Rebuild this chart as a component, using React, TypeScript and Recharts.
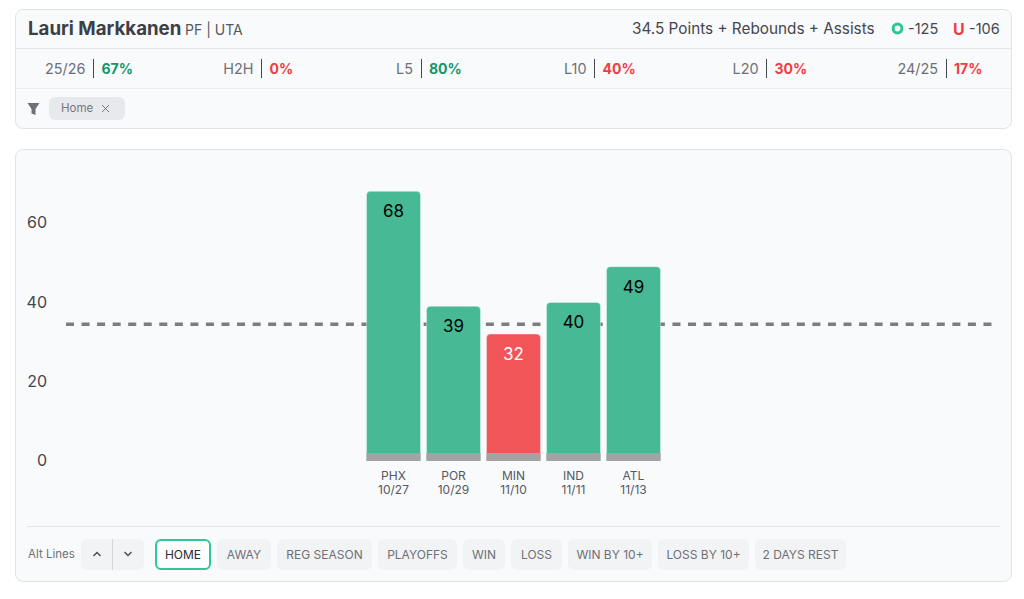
import { BarChart, Bar, XAxis, YAxis, ReferenceLine, LabelList, Rectangle } from 'recharts';

const opponents = ['PHX', 'POR', 'MIN', 'IND', 'ATL'];
const dates = ['10/27', '10/29', '11/10', '11/11', '11/13'];
const totals = [68, 39, 32, 40, 49];
const yTicks = [0, 20, 40, 60];
const propLine = 34.5;

const statLabels = ['25/26', 'H2H', 'L5', 'L10', 'L20', '24/25'];
const statPcts = [67, 0, 80, 40, 30, 17];
const statHit = [true, false, true, false, false, false];
const statSepX = [93.5, 261.5, 421, 594.5, 766.5, 946];

const filters = ['HOME', 'AWAY', 'REG SEASON', 'PLAYOFFS', 'WIN', 'LOSS', 'WIN BY 10+', 'LOSS BY 10+', '2 DAYS REST'];
const filterX = [155, 217, 277, 378, 463, 511, 568, 658, 755];
const filterW = [56, 54, 95, 79, 42, 51, 84, 91, 91];

const data = opponents.map((name, i) => ({ name, date: dates[i], total: totals[i] }));

const FONT = 'Inter, "Open Sans", sans-serif';
const GREEN = '#47b994';
const RED = '#f25558';

const abs = (left: number, top: number, extra: any = {}) => ({ position: 'absolute' as const, left, top, ...extra });

function GameBar(props: any) {
  const { x, y, width, height, payload } = props;
  const fill = payload.total > propLine ? GREEN : RED;
  return (
    <g>
      <Rectangle x={x} y={y} width={width} height={height} radius={[4, 4, 0, 0]} fill={fill} stroke="#ffffff" strokeOpacity={0.35} strokeWidth={1} />
      <Rectangle x={x} y={y + height - 8} width={width} height={8} fill="#a3a3a3" />
    </g>
  );
}

function GameTick({ x, y, payload, index }: any) {
  return (
    <text x={x} textAnchor="middle" fontFamily={FONT} fontSize={12} fill="#55585e">
      <tspan x={x} y={y + 11}>{payload.value}</tspan>
      <tspan x={x} y={y + 25}>{dates[index]}</tspan>
    </text>
  );
}

function BarValue({ x, y, width, value }: any) {
  return (
    <text x={x + width / 2} y={y + 26} textAnchor="middle" fontFamily={FONT} fontSize={17} fill={value > propLine ? '#000000' : '#ffffff'}>
      {value}
    </text>
  );
}

export default function App() {
  return (
    <div style={{ position: 'absolute', left: 0, top: 0, width: 1024, height: 599, background: '#fff', fontFamily: FONT, color: '#44474d', overflow: 'hidden' }}>
      {/* header card */}
      <div style={abs(15, 9, { width: 997, height: 120, boxSizing: 'border-box', border: '1px solid #e1e3e7', borderRadius: 8, background: '#f9fafc' })} />
      <div style={abs(16, 48, { width: 995, height: 1, background: '#e4e6ea' })} />
      <div style={abs(16, 88, { width: 995, height: 1, background: '#e9ebee' })} />
      <div style={abs(28, 17, { fontSize: 18.7, fontWeight: 700, color: '#3d4046', lineHeight: '24px', whiteSpace: 'nowrap' })}>Lauri Markkanen</div>
      <div style={abs(185, 19, { fontSize: 14, lineHeight: '22px', color: '#55585e', whiteSpace: 'nowrap' })}>PF | UTA</div>
      <div style={abs(632, 18, { fontSize: 15.3, lineHeight: '22px', whiteSpace: 'nowrap' })}>34.5 Points + Rebounds + Assists</div>
      <svg style={abs(891, 22)} width={13} height={13}><circle cx={6.5} cy={6.5} r={4.4} fill="none" stroke="#2fc592" strokeWidth={3} /></svg>
      <div style={abs(908, 18, { fontSize: 14.5, lineHeight: '22px' })}>-125</div>
      <div style={abs(953, 18, { fontSize: 16, fontWeight: 700, lineHeight: '22px', color: '#f03d42' })}>U</div>
      <div style={abs(969, 18, { fontSize: 14.5, lineHeight: '22px' })}>-106</div>

      {statLabels.map((label, i) => (
        <div key={label}>
          <div style={{ position: 'absolute', right: 1024 - statSepX[i] + 8, top: 59, fontSize: 14.4, lineHeight: '20px', color: '#6d7076', whiteSpace: 'nowrap' }}>{label}</div>
          <div style={abs(statSepX[i] - 0.5, 59, { width: 1, height: 19, background: '#44474d' })} />
          <div style={abs(statSepX[i] + 8, 59, { fontSize: 14, fontWeight: 700, lineHeight: '20px', color: statHit[i] ? '#149468' : '#f03d42' })}>{statPcts[i]}%</div>
        </div>
      ))}

      <svg style={abs(27, 102)} width={13} height={14} viewBox="0 0 13 14"><path d="M0.5 1 H12.5 L8.5 7 V13 L4.5 11.5 V7 Z" fill="#6d7076" /></svg>
      <div style={abs(49, 97, { width: 76, height: 23, borderRadius: 6, background: '#e8e9ec' })} />
      <div style={abs(61, 97, { fontSize: 11.5, lineHeight: '23px', color: '#74777d' })}>Home</div>
      <svg style={abs(101, 104)} width={9} height={9}><path d="M1 1 L8 8 M8 1 L1 8" stroke="#74777d" strokeWidth={1} /></svg>

      {/* chart card */}
      <div style={abs(15, 149, { width: 997, height: 433, boxSizing: 'border-box', border: '1px solid #e1e3e7', borderRadius: 8, background: '#f9fafc' })} />
      <div style={abs(0, 150)}>
        <BarChart width={1024} height={350} data={data} barSize={54} margin={{ top: 13.6, right: 31, bottom: 0, left: 0 }}>
          <XAxis dataKey="name" height={39} axisLine={false} tickLine={false} interval={0} padding={{ left: 297.5, right: 329.5 }} tick={<GameTick />} />
          <YAxis width={66} domain={[0, 75]} ticks={yTicks} axisLine={false} tickLine={false} tickSize={0} tickMargin={19} tick={{ fontFamily: FONT, fontSize: 16, fill: '#44474d', dy: -0.5 }} />
          <ReferenceLine y={propLine} stroke="#7b7d81" strokeWidth={3.5} strokeDasharray="8 7.55" zIndex={100} />
          <Bar dataKey="total" shape={<GameBar />} isAnimationActive={false}>
            <LabelList dataKey="total" content={<BarValue />} />
          </Bar>
        </BarChart>
      </div>

      {/* filter row */}
      <div style={abs(27, 526, { width: 973, height: 1, background: '#e2e4e8' })} />
      <div style={abs(28, 544, { fontSize: 11.5, lineHeight: '20px', color: '#6d7076' })}>Alt Lines</div>
      <div style={abs(81, 539, { width: 63, height: 31, borderRadius: 6, background: '#f2f3f5' })} />
      <div style={abs(112, 539, { width: 1, height: 31, background: '#d4d6da' })} />
      <svg style={abs(92, 550)} width={10} height={8}><path d="M1.5 6 L5 2.5 L8.5 6" fill="none" stroke="#44474d" strokeWidth={1.3} /></svg>
      <svg style={abs(123, 550)} width={10} height={8}><path d="M1.5 2 L5 5.5 L8.5 2" fill="none" stroke="#44474d" strokeWidth={1.3} /></svg>
      {filters.map((f, i) => (
        <div
          key={f}
          style={abs(filterX[i], 539, {
            width: filterW[i],
            height: 31,
            boxSizing: 'border-box',
            borderRadius: 6,
            border: i === 0 ? '2px solid #2fc79a' : 'none',
            background: i === 0 ? '#fcfdfd' : '#f2f3f5',
            color: i === 0 ? '#2b2e33' : '#6d7076',
            fontSize: 12,
            lineHeight: i === 0 ? '27px' : '31px',
            textAlign: 'center',
            whiteSpace: 'nowrap',
          })}
        >
          {f}
        </div>
      ))}
    </div>
  );
}
